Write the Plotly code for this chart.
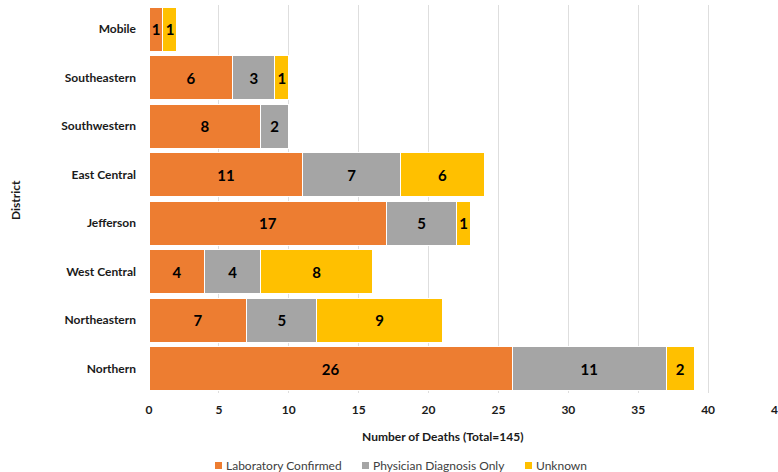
import plotly.graph_objects as go

# Deaths by district and diagnosis type (bottom-to-top order)
districts = ["Northern", "Northeastern", "West Central", "Jefferson",
             "East Central", "Southwestern", "Southeastern", "Mobile"]
lab_confirmed = [26, 7, 4, 17, 11, 8, 6, 1]
physician_only = [11, 5, 4, 5, 7, 2, 3, 0]
unknown = [2, 9, 8, 1, 6, 0, 1, 1]

series = [
    ("Laboratory Confirmed", lab_confirmed, "#ED7D31"),
    ("Physician Diagnosis Only", physician_only, "#A5A5A5"),
    ("Unknown", unknown, "#FFC000"),
]

FONT = "Lato"
TXT = "#1a1a1a"

# plot-area geometry in pixels, used to place the titles and the legend
L, R, T, B = 149, 778, 5, 393
W, H = R - L, B - T


def px_x(px):
    return (px - L) / W


def px_y(py):
    return (B - py) / H


fig = go.Figure()
for name, vals, color in series:
    fig.add_trace(go.Bar(
        name=name,
        y=districts,
        x=vals,
        orientation="h",
        marker=dict(color=color, line=dict(color="white", width=1)),
        text=[str(v) if v else "" for v in vals],
        textposition="inside",
        insidetextanchor="middle",
        textfont=dict(family=FONT, size=15, color="black", weight="bold"),
        hoverinfo="x+y+name",
        showlegend=False,
    ))

annotations = [
    dict(text="Number of Deaths (Total=145)", xref="paper", yref="paper",
         x=px_x(442), y=px_y(436), xanchor="center", yanchor="middle",
         showarrow=False,
         font=dict(family=FONT, size=12, color=TXT, weight="bold")),
    dict(text="District", xref="paper", yref="paper",
         x=px_x(15), y=px_y(200), xanchor="center", yanchor="middle",
         textangle=-90, showarrow=False,
         font=dict(family=FONT, size=12, color=TXT, weight="bold")),
]
shapes = []

# legend: small colour square followed by the series name
legend_x = [215, 362, 525]
for (name, _, color), lx in zip(series, legend_x):
    shapes.append(dict(type="rect", xref="paper", yref="paper",
                       x0=px_x(lx), x1=px_x(lx + 7), y0=px_y(469), y1=px_y(462),
                       fillcolor=color, line=dict(width=0)))
    annotations.append(dict(text=name, xref="paper", yref="paper",
                            x=px_x(lx + 9), y=px_y(465.5), xanchor="left", yanchor="middle",
                            showarrow=False,
                            font=dict(family=FONT, size=12, color="#404040")))

fig.update_layout(
    barmode="stack",
    bargap=0.1,
    width=778,
    height=472,
    margin=dict(l=L, r=778 - R, t=T, b=472 - B, autoexpand=False),
    paper_bgcolor="white",
    plot_bgcolor="white",
    font=dict(family=FONT, color=TXT),
    uniformtext=dict(minsize=14, mode="show"),
    showlegend=False,
    xaxis=dict(
        range=[0, 45],
        dtick=5,
        showgrid=True,
        gridcolor="#DEDEDE",
        gridwidth=1,
        zeroline=False,
        showline=False,
        tickfont=dict(family=FONT, size=12, color=TXT, weight="bold"),
        ticklabelstandoff=8,
        ticklabeloverflow="allow",
    ),
    yaxis=dict(
        showgrid=False,
        zeroline=False,
        showline=False,
        tickfont=dict(family=FONT, size=12, color=TXT, weight="bold"),
        ticklabelstandoff=12,
    ),
    annotations=annotations,
    shapes=shapes,
)

fig.write_html("out.html")
